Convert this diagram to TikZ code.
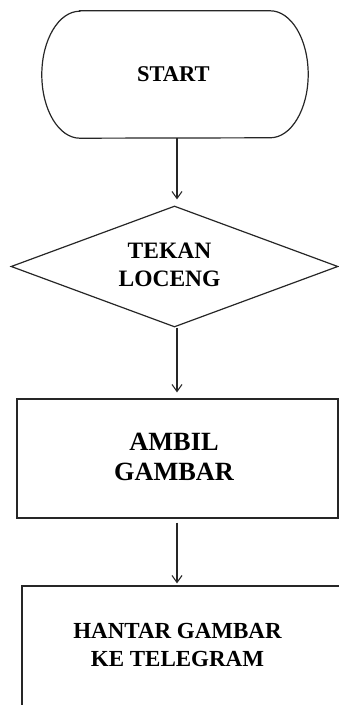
\documentclass[tikz,border=0pt]{standalone}
\usepackage{fontspec}
\setmainfont{Liberation Serif}
\usetikzlibrary{shapes.geometric,arrows.meta}
\begin{document}
\begin{tikzpicture}[x=1pt,y=1pt,
  outline/.style={draw=black!85,line width=1.2pt},
  txt/.style={inner sep=0pt,align=center,text=black},
  arr/.style={draw=black!85,line width=1.1pt,-{Straight Barb[length=7pt,width=10pt,line width=1.1pt]}}]
\useasboundingbox (0,0) rectangle (339,705);
\clip (0,0) rectangle (339,705);
% START terminator (straight top/bottom, half-ellipse ends)
\node[inner sep=0pt,minimum width=266pt,minimum height=127pt] (start) at (175,630.5) {};
\draw[outline] ([xshift=38pt]start.north west) -- ([xshift=-38pt]start.north east)
  arc[start angle=90,end angle=-90,x radius=38pt,y radius=63.5pt]
  -- ([xshift=38pt]start.south west)
  arc[start angle=270,end angle=90,x radius=38pt,y radius=63.5pt] -- cycle;
\node[txt,font=\fontsize{22.5}{27}\selectfont\bfseries] (tstart) at (173.3,631.2) {START};
% decision
\node[outline,diamond,inner sep=0pt,minimum width=327pt,minimum height=121pt] (dia) at (174.5,438.5) {};
\node[txt,font=\fontsize{23.5}{28}\selectfont\bfseries] (tdia) at (169.5,439.7) {TEKAN\\LOCENG};
% process 1
\node[outline,rectangle,inner sep=0pt,minimum width=321pt,minimum height=119pt] (ambil) at (177.5,246.5) {};
\node[txt,font=\fontsize{26.3}{30}\selectfont\bfseries] (tambil) at (174,248) {AMBIL\\GAMBAR};
% process 2 (cut off by the picture edge)
\node[outline,rectangle,inner sep=0pt,minimum width=338pt,minimum height=139pt] (hantar) at (191,49.5) {};
\node[txt,font=\fontsize{23}{27.4}\selectfont\bfseries] (thantar) at (177.5,60) {HANTAR GAMBAR\\KE TELEGRAM};
% connectors
\coordinate (ax) at (177,0);
\draw[arr,shorten >=6pt] (start.south -| ax) -- (dia.north -| ax);
\draw[arr,shorten >=6pt] (dia.south -| ax) -- (ambil.north -| ax);
\draw[arr,shorten <=4pt,shorten >=2pt] (ambil.south -| ax) -- (hantar.north -| ax);
\end{tikzpicture}
\end{document}
